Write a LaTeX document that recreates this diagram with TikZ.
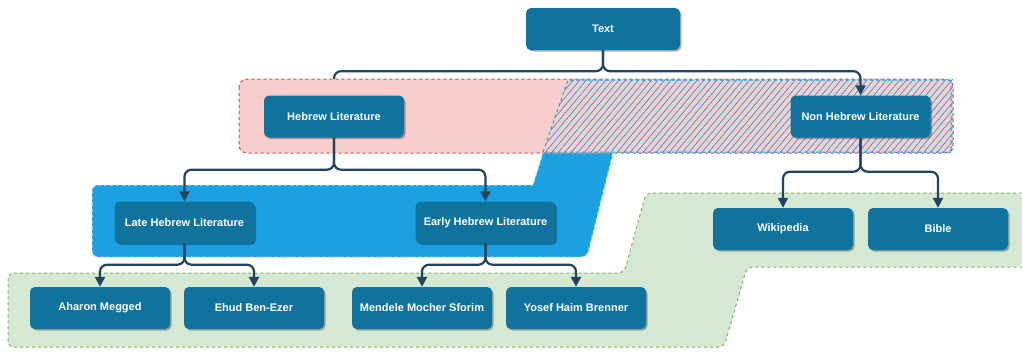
\documentclass[tikz,border=0pt]{standalone}
\usepackage{fontspec}
\setmainfont{Liberation Sans}
\usetikzlibrary{arrows.meta,patterns.meta,shadows}
\definecolor{NodeFill}{HTML}{10739E}
\definecolor{Link}{HTML}{23445D}
\definecolor{RedSoft}{HTML}{F8CECC}
\definecolor{RedLine}{HTML}{B85450}
\definecolor{BlueZone}{HTML}{1BA1E2}
\definecolor{BlueEdge}{HTML}{B9E2F7}
\definecolor{GreenSoft}{HTML}{D5E8D4}
\definecolor{GreenLine}{HTML}{82B366}
\pgfdeclarelayer{back}
\pgfdeclarelayer{mid}
\pgfdeclarelayer{zone}
\pgfsetlayers{back,mid,zone,main}
\tikzset{
  item/.style={fill=NodeFill,text=white,font=\bfseries\fontsize{11}{13}\selectfont,rounded corners=5pt,minimum width=140pt,minimum height=42pt,inner sep=0pt,align=center,drop shadow={shadow xshift=1.5pt,shadow yshift=-1.5pt,fill=black,opacity=.3}},
  link/.style={draw=Link,line width=2.2pt,rounded corners=7pt,-{Triangle[length=10pt,width=10pt]}},
  zoneline/.style={line width=1pt,dash pattern=on 3pt off 3pt}
}
\begin{document}
\begin{tikzpicture}[x=1pt,y=-1pt]
  \useasboundingbox (0,0) rectangle (1022,351);
  % tree nodes
  \node[item,minimum width=154pt] (txt) at (603,29) {Text};
  \node[item] (heb) at (334,116.5) {Hebrew Literature};
  \node[item] (nonheb) at (860.5,116.5) {Non Hebrew Literature};
  \node[item] (late) at (184.5,222.5) {Late Hebrew Literature};
  \node[item] (early) at (485.5,222.5) {Early Hebrew Literature};
  \node[item] (wiki) at (783,229) {Wikipedia};
  \node[item] (bible) at (938,229) {Bible};
  \node[item] (megged) at (100,308) {Aharon Megged};
  \node[item] (benezer) at (254,308) {Ehud Ben-Ezer};
  \node[item] (mendele) at (422,308) {Mendele Mocher Sforim};
  \node[item] (brenner) at (576,308) {Yosef Haim Brenner};
  % groups
  \begin{pgfonlayer}{back}
    \fill[GreenSoft,rounded corners=6pt] (1022,193) -- (646,193) -- (624,273) -- (8,273) -- (8,347) -- (724,347) -- (747,267) -- (1022,267) -- cycle;
    \draw[GreenLine,zoneline,rounded corners=6pt] (1022,193) -- (646,193) -- (624,273) -- (8,273) -- (8,347) -- (724,347) -- (747,267) -- (1022,267);
    \path[fill=BlueZone,draw=BlueEdge,zoneline,rounded corners=6pt] (533,185) -- (92,185) -- (92,257) -- (587,257) [sharp corners] -- (613,153) -- (543,153) -- cycle;
  \end{pgfonlayer}
  \begin{pgfonlayer}{mid}
    \draw[link] (txt.south) -- ++(0,21) -| (heb.north);
  \end{pgfonlayer}
  \begin{pgfonlayer}{zone}
    \path[fill=RedSoft,draw=RedLine,zoneline,rounded corners=8pt] (239,79) rectangle (953,153);
    \path[pattern={Lines[angle=50,distance=5pt,line width=.7pt]},pattern color=BlueZone] (568,79) -- (953,79) -- (953,153) -- (543,153) -- cycle;
    \draw[BlueZone,zoneline] (951,80) -- (568,80) -- (543,152) -- (951,152) -- cycle;
  \end{pgfonlayer}
  % connectors
  \draw[link] (txt.south) -- ++(0,21) -| (nonheb.north);
  \draw[link] (heb.south) -- ++(0,32) -| (late.north);
  \draw[link] (heb.south) -- ++(0,32) -| (early.north);
  \draw[link] (nonheb.south) -- ++(0,34) -| (wiki.north);
  \draw[link] (nonheb.south) -- ++(0,34) -| (bible.north);
  \draw[link] (late.south) -- ++(0,21) -| (megged.north);
  \draw[link] (late.south) -- ++(0,21) -| (benezer.north);
  \draw[link] (early.south) -- ++(0,21) -| (mendele.north);
  \draw[link] (early.south) -- ++(0,21) -| (brenner.north);
\end{tikzpicture}
\end{document}
